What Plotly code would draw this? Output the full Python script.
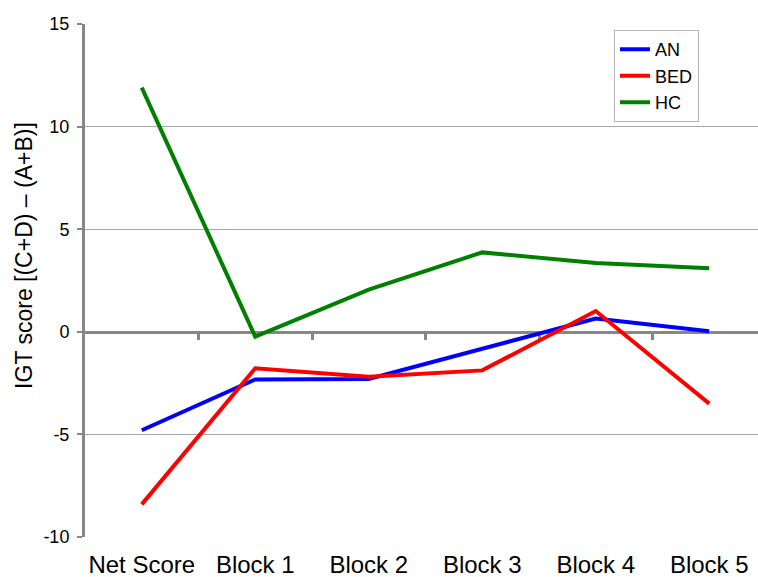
import plotly.graph_objects as go

categories = ["Net Score", "Block 1", "Block 2", "Block 3", "Block 4", "Block 5"]
an_values = [-4.8, -2.32, -2.3, -0.84, 0.65, 0.03]
bed_values = [-8.41, -1.78, -2.19, -1.88, 1.01, -3.5]
hc_values = [11.9, -0.24, 2.06, 3.87, 3.35, 3.1]
y_ticks = [-10, -5, 0, 5, 10, 15]
y_tick_labels = [str(v) for v in y_ticks]
y_title = "IGT score [(C+D) \u2013 (A+B)]"

FONT = "Liberation Sans, Arial, Helvetica, sans-serif"
AXIS_GRAY = "#878787"

idx = list(range(len(categories)))
fig = go.Figure()
for name, vals, col in [("AN", an_values, "#0000FF"),
                        ("BED", bed_values, "#FF0000"),
                        ("HC", hc_values, "#008000")]:
    fig.add_trace(go.Scatter(x=idx, y=vals, mode="lines", name=name,
                             line=dict(color=col, width=4)))

# dummy trace to enable the overlay x-axis drawn at y=0
fig.add_trace(go.Scatter(x=[None], y=[None], xaxis="x2", showlegend=False,
                         hoverinfo="skip"))

ymin, ymax = y_ticks[0], y_ticks[-1]
xrange = [-0.5, -0.5 + 673 / 113.5]

fig.update_layout(
    width=758, height=577,
    margin=dict(l=85, r=0, t=24, b=40, pad=0),
    paper_bgcolor="white", plot_bgcolor="white",
    font=dict(family=FONT, color="black"),
    showlegend=True,
    legend=dict(x=0.786, y=0.988, xanchor="left", yanchor="top",
                bgcolor="white", bordercolor="#b5b5b5", borderwidth=1,
                font=dict(size=18, family=FONT), tracegroupgap=0,
                itemwidth=30),
    xaxis=dict(range=xrange, tickmode="array", tickvals=idx, ticktext=categories,
               showgrid=False, zeroline=False, showline=False, ticks="",
               tickfont=dict(size=24, family=FONT), ticklabelstandoff=11,
               fixedrange=True, automargin=False),
    xaxis2=dict(range=xrange, overlaying="x", anchor="free",
                position=(0 - ymin) / (ymax - ymin),
                showline=True, linecolor=AXIS_GRAY, linewidth=3,
                tickmode="array", tickvals=[i + 0.5 for i in idx[:-1]],
                ticks="outside", ticklen=6, tickwidth=3, tickcolor=AXIS_GRAY,
                showticklabels=False, showgrid=False, zeroline=False,
                layer="below traces", automargin=False),
    yaxis=dict(range=[ymin, ymax], tickmode="array", tickvals=y_ticks,
               ticktext=y_tick_labels,
               showgrid=True, gridcolor="#a8a8a8", gridwidth=1,
               zeroline=False, showline=True, linecolor=AXIS_GRAY, linewidth=3,
               ticks="outside", ticklen=5, tickwidth=2, tickcolor=AXIS_GRAY,
               tickfont=dict(size=18, family=FONT), ticklabelstandoff=4,
               automargin=False),
    annotations=[dict(text=y_title, textangle=-90, xref="paper", yref="paper",
                      x=0, y=0.548, xanchor="center", yanchor="middle",
                      xshift=-61, showarrow=False,
                      font=dict(size=23, family=FONT, color="black"))],
)

fig.write_html("out.html",
               config={"displayModeBar": False},
               post_script="document.documentElement.style.overflow='hidden';"
                           "document.body.style.margin='0';"
                           "document.body.style.overflow='hidden';")
